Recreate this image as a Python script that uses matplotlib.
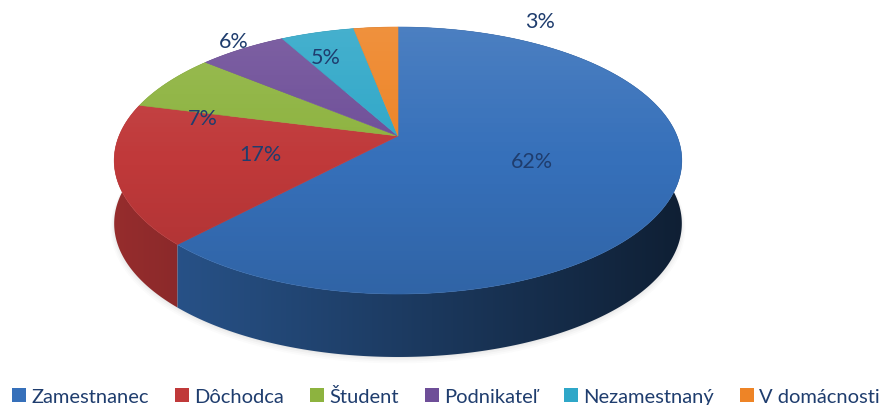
import numpy as np
import matplotlib.pyplot as plt
from matplotlib.patches import Polygon, Patch
from matplotlib.colors import to_rgb

# data
categories = ['Zamestnanec', 'Dôchodca', 'Študent', 'Podnikateľ', 'Nezamestnaný', 'V domácnosti']
values = [62, 17, 7, 6, 5, 3]
colors = ['#3670BA', '#C0393A', '#8DB33F', '#6E4E98', '#2FA7C8', '#EE8426']

# label placement: (radius fraction, angle shift in degrees)
label_pos = [(0.5, 0), (0.5, 0), (0.73, 16), (1.09, -1), (0.75, 3), (1.23, -35)]

W, H = 892, 406
CX, CY = 398, 137        # apex of the pie on screen
R, B, K = 279, 129, 0.1835   # horizontal/vertical radius, perspective
D = 63                   # thickness of the pie
text_col = '#1F3D6E'
font = 'Lato'


def proj(theta, r=1.0, depth=0.0):
    u = r * np.cos(theta)
    v = r * np.sin(theta)
    w = 1 + K * v
    return CX + R * u / w, CY - B * v / w + depth


fig = plt.figure(figsize=(W / 100, H / 100), dpi=100)
ax = fig.add_axes([0, 0, 1, 1])
ax.set_xlim(0, W)
ax.set_ylim(H, 0)
ax.axis('off')

total = sum(values)
fracs = np.array(values) / total
starts = np.pi / 2 - 2 * np.pi * np.concatenate([[0], np.cumsum(fracs)[:-1]])
ends = starts - 2 * np.pi * fracs

# soft shadow under the pie
t = np.linspace(0, 2 * np.pi, 400)
for i, a in enumerate([0.06, 0.05, 0.04, 0.03]):
    sx, sy = proj(t, 1.0 + 0.004 * i, D + 1 + i)
    ax.add_patch(Polygon(np.column_stack([sx, sy]), closed=True, fc='#808080',
                         ec='none', alpha=a, zorder=1))

# side walls: one polygon per slice, shaded left-to-right
xs = np.linspace(CX - R * 1.03, CX + R * 1.03, 400)
cosx = np.clip((xs - CX) / (R * 1.017), -1, 1)
shade_f = 0.53 - 0.25 * cosx
mid_sin = np.sin(0.5 * (starts + ends))
for i in np.argsort(-mid_sin):
    th = np.linspace(starts[i], ends[i], 300)
    x0, y0 = proj(th)
    x1, y1 = proj(th[::-1], 1, D)
    pts = np.column_stack([np.concatenate([x0, x1]), np.concatenate([y0, y1])])
    poly = Polygon(pts, closed=True, fc='none', ec='none', zorder=2)
    ax.add_patch(poly)
    band = np.ones((2, len(xs), 3)) * np.array(to_rgb(colors[i]))
    band = np.clip(band * shade_f[None, :, None], 0, 1)
    im = ax.imshow(band, extent=[xs[0], xs[-1], pts[:, 1].max() + 1, pts[:, 1].min() - 1],
                   aspect='auto', zorder=2, interpolation='bilinear')
    im.set_clip_path(poly)

# top faces
for i in range(len(values)):
    th = np.linspace(starts[i], ends[i], 200)
    x, y = proj(th)
    pts = np.vstack([[CX, CY], np.column_stack([x, y])])
    ax.add_patch(Polygon(pts, closed=True, fc=colors[i], ec=colors[i], lw=0.4, zorder=3))

# light-to-dark gradient over the top face
ex, ey = proj(t)
top_clip = Polygon(np.column_stack([ex, ey]), closed=True, fc='none', ec='none')
ax.add_patch(top_clip)
g = np.linspace(0, 1, 256)
grad = np.zeros((256, 2, 4))
grad[:, :, :3] = np.where(g[:, None, None] < 0.5, 1.0, 0.0)
grad[:, :, 3] = np.abs(g - 0.5)[:, None] * 0.22
img = ax.imshow(grad, extent=[ex.min(), ex.max(), ey.max(), ey.min()],
                aspect='auto', zorder=4, interpolation='bilinear')
img.set_clip_path(top_clip)

# percentage labels
for i in range(len(values)):
    r, shift = label_pos[i]
    m = 0.5 * (starts[i] + ends[i]) + np.radians(shift)
    lx, ly = proj(m, r)
    ax.text(lx, ly, f'{values[i]}%', ha='center', va='center', fontsize=15.5,
            color=text_col, family=font, zorder=5)

# legend
handles = [Patch(fc=c, ec='none') for c in colors]
fig.legend(handles, categories, loc='lower center', bbox_to_anchor=(0.5, -0.045),
           ncol=6, frameon=False, handlelength=0.7, handleheight=0.7,
           handletextpad=0.25, columnspacing=1.3,
           prop={'family': font, 'size': 14.5}, labelcolor=text_col)

fig.savefig('out.png', dpi=100)
